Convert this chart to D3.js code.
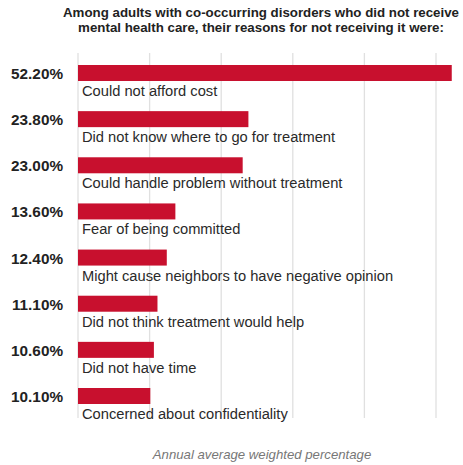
<!DOCTYPE html>
<html><head><meta charset="utf-8">
<script src="https://cdn.jsdelivr.net/npm/d3@7"></script>
<style>body{margin:0;background:#fff}svg{display:block}</style>
</head><body>
<script>
const categories = ["Could not afford cost","Did not know where to go for treatment","Could handle problem without treatment","Fear of being committed","Might cause neighbors to have negative opinion","Did not think treatment would help","Did not have time","Concerned about confidentiality"];
const values = [52.2,23.8,23.0,13.6,12.4,11.1,10.6,10.1];
const valueLabels = ["52.20%","23.80%","23.00%","13.60%","12.40%","11.10%","10.60%","10.10%"];
const gridTicks = [0,10,20,30,40,50];
const titleLines = ["Among adults with co-occurring disorders who did not receive","mental health care, their reasons for not receiving it were:"];
const axisTitle = "Annual average weighted percentage";

const W=463,H=465, FONT="Liberation Sans, Arial, sans-serif";
const svg=d3.select("body").append("svg").attr("width",W).attr("height",H);
const x=d3.scaleLinear().domain([0,50]).range([78,436]);
const y=d3.scalePoint().domain(categories).range([65,388]);
const bw=16;

svg.append("g").selectAll("line").data(gridTicks).join("line")
  .attr("x1",d=>x(d)).attr("x2",d=>x(d)).attr("y1",53).attr("y2",418)
  .attr("stroke","#e0e0e0").attr("stroke-width",1.3);

svg.append("g").selectAll("text").data(titleLines).join("text")
  .attr("x",261).attr("y",(d,i)=>17+i*15).attr("text-anchor","middle")
  .attr("font-family",FONT).attr("font-weight","bold")
  .attr("font-size",13.3).attr("fill","#222").text(d=>d);

svg.append("g").selectAll("rect").data(values).join("rect")
  .attr("x",x(0)).attr("y",(d,i)=>y(categories[i])).attr("width",d=>x(d)-x(0)).attr("height",bw)
  .attr("fill","#c8102e");

svg.append("g").selectAll("text").data(valueLabels).join("text")
  .attr("x",63).attr("y",(d,i)=>y(categories[i])+bw/2+6).attr("text-anchor","end")
  .attr("font-family",FONT).attr("font-weight","bold")
  .attr("font-size",15.3).attr("fill","#222").text(d=>d);

svg.append("g").selectAll("text").data(categories).join("text")
  .attr("x",82).attr("y",d=>y(d)+bw+15).attr("text-anchor","start")
  .attr("font-family",FONT)
  .attr("font-size",14.7).attr("fill","#2a2a2a").text(d=>d);

svg.append("text").attr("x",262).attr("y",459).attr("text-anchor","middle")
  .attr("font-family",FONT).attr("font-style","italic")
  .attr("font-size",13.2).attr("fill","#777").text(axisTitle);
</script>
</body></html>
